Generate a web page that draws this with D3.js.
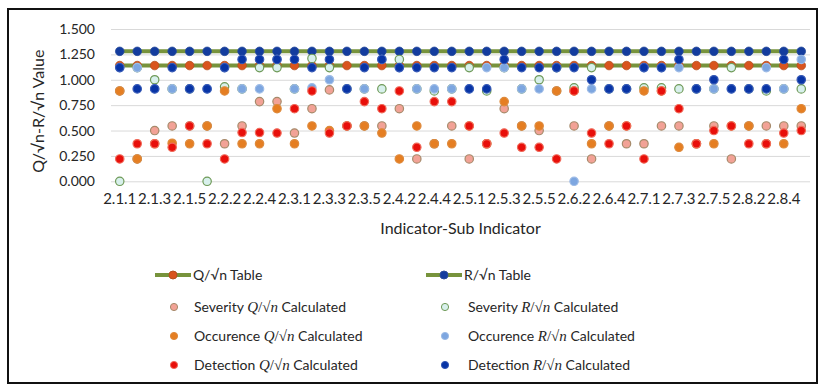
<!DOCTYPE html>
<html>
<head>
<meta charset="utf-8">
<script src="https://cdn.jsdelivr.net/npm/d3@7"></script>
<style>
  body { margin: 0; background: #fff; }
  svg { display: block; font-family: Lato, "Open Sans", sans-serif; }
</style>
</head>
<body>
<svg id="chart" width="824" height="387"></svg>
<script>
const categories = [
    "2.1.1", "2.1.2", "2.1.3", "2.1.4", "2.1.5",
    "2.2.1", "2.2.2", "2.2.3", "2.2.4", "2.2.5",
    "2.3.1", "2.3.2", "2.3.3", "2.3.4", "2.3.5",
    "2.4.1", "2.4.2", "2.4.3", "2.4.4", "2.4.5",
    "2.5.1", "2.5.2", "2.5.3", "2.5.4", "2.5.5",
    "2.6.1", "2.6.2", "2.6.3", "2.6.4", "2.6.5",
    "2.7.1", "2.7.2", "2.7.3", "2.7.4", "2.7.5",
    "2.8.1", "2.8.2", "2.8.3", "2.8.4", "2.8.5"
];

const tickLabels = ["2.1.1", "2.1.3", "2.1.5", "2.2.2", "2.2.4", "2.3.1", "2.3.3", "2.3.5", "2.4.2", "2.4.4",
    "2.5.1", "2.5.3", "2.5.5", "2.6.2", "2.6.4", "2.7.1", "2.7.3", "2.7.5", "2.8.2", "2.8.4"];

const yTicks = [0, 0.25, 0.5, 0.75, 1.0, 1.25, 1.5];

const qTable = [
    1.14, 1.14, 1.14, 1.14, 1.14, 1.14, 1.14, 1.14, 1.14, 1.14,
    1.14, 1.14, 1.14, 1.14, 1.14, 1.14, 1.14, 1.14, 1.14, 1.14,
    1.14, 1.14, 1.14, 1.14, 1.14, 1.14, 1.14, 1.14, 1.14, 1.14,
    1.14, 1.14, 1.14, 1.14, 1.14, 1.14, 1.14, 1.14, 1.14, 1.14
];
const rTable = [
    1.28, 1.28, 1.28, 1.28, 1.28, 1.28, 1.28, 1.28, 1.28, 1.28,
    1.28, 1.28, 1.28, 1.28, 1.28, 1.28, 1.28, 1.28, 1.28, 1.28,
    1.28, 1.28, 1.28, 1.28, 1.28, 1.28, 1.28, 1.28, 1.28, 1.28,
    1.28, 1.28, 1.28, 1.28, 1.28, 1.28, 1.28, 1.28, 1.28, 1.28
];

const severityQ = [
    0.89, 0.22, 0.50, 0.545, 0.545, 0.545, 0.37, 0.545, 0.785, 0.785,
    0.475, 0.715, 0.90, 0.545, 0.545, 0.545, 0.715, 0.22, 0.37, 0.545,
    0.22, 0.37, 0.715, 0.545, 0.50, 0.89, 0.545, 0.22, 0.545, 0.37,
    0.37, 0.545, 0.545, 0.37, 0.545, 0.22, 0.545, 0.545, 0.545, 0.545
];
const occurenceQ = [
    0.89, 0.22, 0.37, 0.375, 0.37, 0.545, 0.89, 0.37, 0.37, 0.715,
    0.37, 0.545, 0.50, 0.545, 0.545, 0.475, 0.22, 0.545, 0.37, 0.37,
    0.545, 0.37, 0.785, 0.545, 0.545, 0.89, 0.89, 0.37, 0.545, 0.545,
    0.89, 0.89, 0.335, 0.37, 0.37, 0.545, 0.545, 0.37, 0.37, 0.715
];
const detectionQ = [
    0.22, 0.37, 0.37, 0.335, 0.545, 0.37, 0.22, 0.48, 0.48, 0.475,
    0.715, 0.89, 0.475, 0.545, 0.785, 0.715, 0.89, 0.335, 0.785, 0.785,
    0.545, 0.37, 0.475, 0.335, 0.335, 0.22, 0.89, 0.475, 0.37, 0.545,
    0.22, 0.89, 0.715, 0.37, 0.50, 0.545, 0.37, 0.37, 0.475, 0.50
];
const severityR = [
    0.00, 1.12, 1.00, 0.91, 0.91, 0.00, 0.93, 0.91, 1.12, 1.12,
    0.91, 1.21, 1.12, 0.91, 0.91, 0.91, 1.20, 0.91, 0.89, 0.91,
    1.12, 0.89, 1.12, 0.91, 1.00, 1.12, 0.92, 1.12, 0.91, 0.91,
    0.92, 0.92, 0.91, 0.91, 0.91, 1.12, 0.91, 0.89, 0.91, 0.91
];
const occurenceR = [
    1.12, 1.12, 0.91, 0.91, 0.91, 0.91, 1.12, 0.91, 0.91, 1.20,
    0.91, 0.92, 1.00, 0.91, 0.91, 1.20, 1.12, 0.91, 0.91, 0.91,
    0.91, 1.12, 1.12, 0.91, 0.91, 1.12, 0.00, 0.91, 0.91, 0.91,
    1.12, 1.12, 1.12, 0.91, 0.91, 0.91, 0.91, 1.12, 0.91, 1.20
];
const detectionR = [
    1.12, 0.91, 0.91, 1.12, 0.91, 0.91, 1.12, 1.20, 1.20, 1.20,
    1.20, 1.12, 1.20, 0.91, 1.12, 1.20, 1.12, 1.12, 1.12, 1.12,
    0.91, 0.91, 1.20, 1.12, 1.12, 1.12, 1.12, 1.00, 0.91, 0.91,
    1.12, 1.12, 1.20, 0.91, 1.00, 0.91, 0.91, 0.91, 1.20, 1.00
];

const lineColor = "#77933C";

const tableSeries = [
    { name: "Q/√n Table", values: qTable, fill: "#D9541E", stroke: "#B5501F" },
    { name: "R/√n Table", values: rTable, fill: "#133C9E", stroke: "#2A4C9A" }
];

// drawing order (later on top), same as the legend order
const pointSeries = [
    { label: "Severity", sym: "Q", values: severityQ, fill: "#F2A296", stroke: "#A68A6A" },
    { label: "Severity", sym: "R", values: severityR, fill: "#D8F0EC", stroke: "#6F9A58" },
    { label: "Occurence", sym: "Q", values: occurenceQ, fill: "#E57E22", stroke: "#DE8A3C" },
    { label: "Occurence", sym: "R", values: occurenceR, fill: "#7DA6E0", stroke: "#9DBBE6" },
    { label: "Detection", sym: "Q", values: detectionQ, fill: "#E80F0A", stroke: "#F06A5A" },
    { label: "Detection", sym: "R", values: detectionR, fill: "#0834A6", stroke: "#3558B5" }
];

const svg = d3.select("#chart");

const plot = { left: 111, right: 810, top: 29, bottom: 181.3 };

const x = d3.scaleBand().domain(categories).range([plot.left, plot.right]);
const y = d3.scaleLinear().domain([0, 1.5]).range([plot.bottom, plot.top]);
const cx = (i) => x(categories[i]) + x.bandwidth() / 2;

// outer frame
svg.append("rect")
    .attr("x", 8).attr("y", 9).attr("width", 809).attr("height", 374)
    .attr("fill", "none").attr("stroke", "#111").attr("stroke-width", 2);

// y axis + grid
const yAxis = d3.axisLeft(y).tickValues(yTicks).tickFormat(d3.format(".3f"))
    .tickSize(-(plot.right - plot.left)).tickPadding(16);

const yg = svg.append("g").attr("transform", `translate(${plot.left},0)`).call(yAxis);
yg.select(".domain").remove();
yg.selectAll(".tick line").attr("stroke", "#D9D9D9");
yg.selectAll(".tick text").attr("fill", "#262626").style("font-size", "14px")
    .style("font-family", "Lato, sans-serif");

// x axis labels
const xAxis = d3.axisBottom(x).tickValues(tickLabels).tickSize(0).tickPadding(12);
const xg = svg.append("g").attr("transform", `translate(0,${plot.bottom})`).call(xAxis);
xg.select(".domain").remove();
xg.selectAll(".tick text").attr("fill", "#262626").style("font-size", "15px")
    .style("font-family", "Lato, sans-serif");

// axis titles
svg.append("text")
    .attr("transform", `translate(44,${(plot.top + plot.bottom) / 2 + 6}) rotate(-90)`)
    .attr("text-anchor", "middle").attr("fill", "#262626").style("font-size", "16px")
    .text("Q/√n-R/√n Value");

svg.append("text")
    .attr("x", (plot.left + plot.right) / 2).attr("y", 234)
    .attr("text-anchor", "middle").attr("fill", "#262626").style("font-size", "16px")
    .text("Indicator-Sub Indicator");

// table lines with markers
const line = d3.line().x((d, i) => cx(i)).y((d) => y(d));

tableSeries.forEach((s) => {
    const g = svg.append("g");
    g.append("path").datum(s.values)
        .attr("d", line).attr("fill", "none")
        .attr("stroke", lineColor).attr("stroke-width", 4);
    g.selectAll("circle").data(s.values).join("circle")
        .attr("cx", (d, i) => cx(i)).attr("cy", (d) => y(d)).attr("r", 4.3)
        .attr("fill", s.fill).attr("stroke", s.stroke).attr("stroke-width", 0.8);
});

// calculated points
pointSeries.forEach((s) => {
    svg.append("g").selectAll("circle").data(s.values).join("circle")
        .attr("cx", (d, i) => cx(i)).attr("cy", (d) => y(d)).attr("r", 4.2)
        .attr("fill", s.fill).attr("stroke", s.stroke).attr("stroke-width", 1.2);
});

// legend
const legend = svg.append("g").style("font-size", "14px").attr("fill", "#262626");
const colX = [155, 426];

tableSeries.forEach((s, k) => {
    const lx = colX[k];
    const ly = 275;
    legend.append("line").attr("x1", lx).attr("x2", lx + 36).attr("y1", ly).attr("y2", ly)
        .attr("stroke", lineColor).attr("stroke-width", 4);
    legend.append("circle").attr("cx", lx + 18).attr("cy", ly).attr("r", 4)
        .attr("fill", s.fill).attr("stroke", s.stroke);
    legend.append("text").attr("x", lx + 38).attr("y", ly + 5).text(s.name);
});

const rowY = [307, 336, 365];
const mathFont = "'Liberation Serif', 'Times New Roman', serif";
pointSeries.forEach((s, k) => {
    const col = k % 2;
    const row = Math.floor(k / 2);
    const lx = colX[col];
    const ly = rowY[row];
    legend.append("circle").attr("cx", lx + 19).attr("cy", ly).attr("r", 3.6)
        .attr("fill", s.fill).attr("stroke", s.stroke).attr("stroke-width", 1);
    const t = legend.append("text").attr("x", lx + 39 + col * 3).attr("y", ly + 5);
    t.append("tspan").text(s.label + " ");
    t.append("tspan").style("font-family", mathFont).style("font-style", "italic")
        .style("font-size", "15px").text(s.sym);
    t.append("tspan").style("font-family", mathFont).style("font-size", "15px").text("/√");
    t.append("tspan").style("font-family", mathFont).style("font-style", "italic")
        .style("font-size", "15px").text("n");
    t.append("tspan").text(" Calculated");
});
</script>
</body>
</html>
